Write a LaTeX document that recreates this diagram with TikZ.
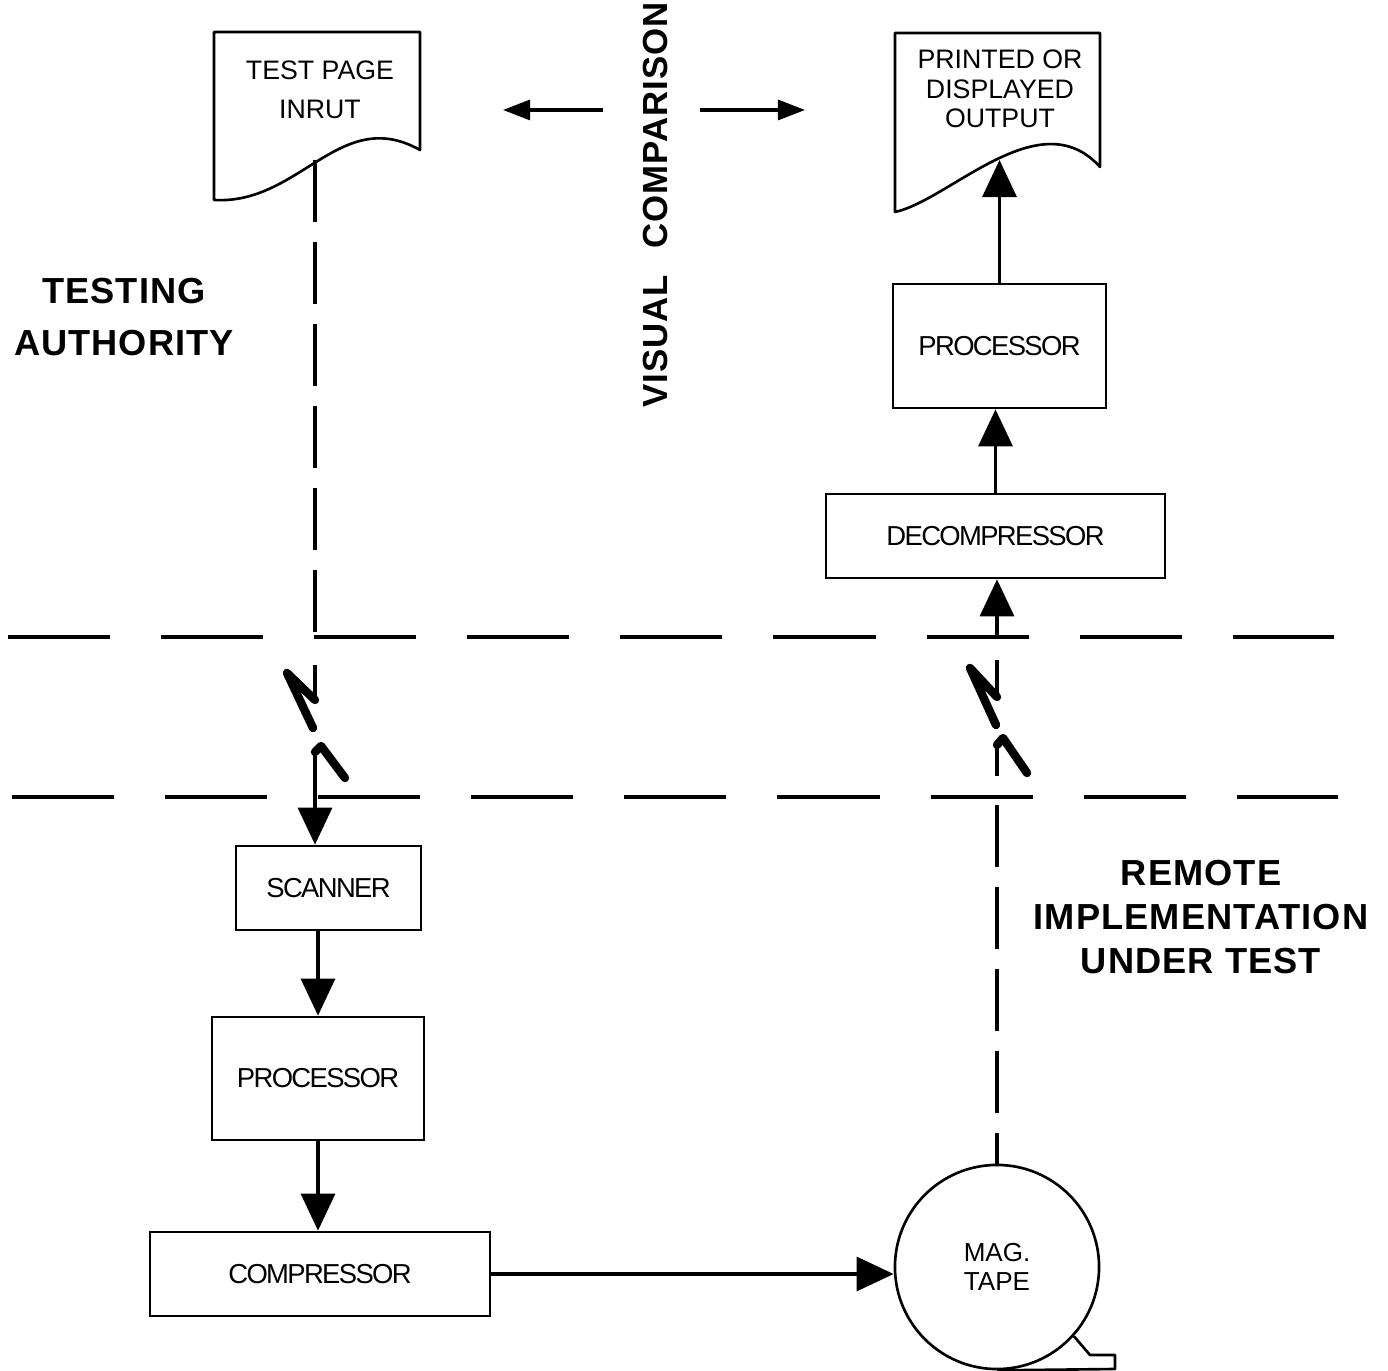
\documentclass[tikz,border=0pt]{standalone}
\usepackage{fontspec}
\setmainfont{Liberation Sans}
\newfontfamily\boxfont[LetterSpace=-6]{Liberation Sans}
\newfontfamily\docfont{Liberation Sans}
\newfontfamily\zonefont[LetterSpace=3]{Liberation Sans}
\usetikzlibrary{arrows.meta}

\begin{document}
\begin{tikzpicture}[x=0.01cm, y=-0.01cm,
  box/.style={draw, line width=0.75pt, inner sep=0pt,
    font=\boxfont\fontsize{7.8}{9}\selectfont},
  tapebox/.style={draw, circle, line width=0.75pt, inner sep=0pt, align=center,
    font=\docfont\fontsize{7.4}{8.2}\selectfont},
  doc/.style={line width=0.75pt, line join=round},
  conn/.style={line width=0.9pt, -{Triangle[length=0.37cm,width=0.34cm]}},
  cmp/.style={line width=0.9pt, -{Triangle[length=0.27cm,width=0.2cm]}},
  trace/.style={line width=1pt, dash pattern=on 0.62cm off 0.2cm},
  sepline/.style={line width=1.1pt, dash pattern=on 1.02cm off 0.51cm},
  bolt/.style={line width=2.4pt, line cap=round, line join=round},
  boltstem/.style={line width=1.1pt},
  zonetext/.style={inner sep=0pt, align=center, font=\zonefont\bfseries}
]
\fill[white] (0,0) rectangle (1388,1371);
\useasboundingbox (0,0) rectangle (1388,1371);

% documents
\draw[doc] (214,32) -- (420,32) -- (420,150)
  .. controls (340,105) and (300,205) .. (214,200) -- cycle;
\coordinate (inwave) at (315,160);
\node[inner sep=0pt, align=center, font=\docfont\fontsize{7.6}{11}\selectfont]
  (intext) at (320,90) {TEST PAGE\\INRUT};

\draw[doc] (895,33) -- (1100,33) -- (1100,167)
  .. controls (1040,100) and (950,200) .. (895,212) -- cycle;
\node[inner sep=0pt, align=center, font=\docfont\fontsize{7.6}{8.3}\selectfont]
  (outtext) at (1000,89) {PRINTED OR\\DISPLAYED\\OUTPUT};

% process boxes
\node[box, minimum width=1.85cm, minimum height=0.84cm] (scanner) at (328.5,888) {SCANNER};
\node[box, minimum width=2.12cm, minimum height=1.23cm] (procA) at (318,1078.5) {PROCESSOR};
\node[box, minimum width=3.40cm, minimum height=0.84cm] (compressor) at (320,1274) {COMPRESSOR};
\node[box, minimum width=2.13cm, minimum height=1.24cm] (procB) at (999.5,346) {PROCESSOR};
\node[box, minimum width=3.39cm, minimum height=0.84cm] (decomp) at (995.5,536) {DECOMPRESSOR};
\node[tapebox, minimum size=2.04cm] (tape) at (997,1267) {MAG.\\TAPE};
\draw[doc] (tape.-42) -- (1090,1355) -- (1115,1355) -- (1115,1369) -- (tape.south);

% region boundaries
\draw[sepline] (8,637) -- (1334,637);
\draw[sepline] (12,797) -- (1338,797);

% left path: test page down to the scanner
\coordinate (traceAend) at (315,637);
\draw[trace] (inwave) -- (traceAend);
\draw[boltstem] (315,665) -- (315,700);
\draw[bolt] (315,700) -- (287,673) -- (313,728);
\draw[bolt] (345,778) -- (321,746) -- (315,752);
\coordinate (boltAfoot) at (315,752);
\draw[conn] (boltAfoot) -- (boltAfoot |- scanner.north);
\draw[conn] (procA.north |- scanner.south) -- (procA.north);
\draw[conn] (procA.south) -- (procA.south |- compressor.north);
\draw[conn] (compressor.east) -- (compressor.east -| tape.west);

% right path: tape up to the output
\coordinate (traceBtop) at (997,805);
\draw[trace] (traceBtop) -- (tape.north);
\draw[boltstem] (997,745) -- (997,776);
\draw[bolt] (997,745) -- (1003,738) -- (1027,773);
\draw[boltstem] (997,660) -- (997,697);
\draw[bolt] (997,697) -- (970,668) -- (996,725);
\coordinate (boltBhead) at (997,637);
\draw[conn] (boltBhead) -- (boltBhead |- decomp.south);
\draw[conn] (decomp.north) -- (decomp.north |- procB.south);
\coordinate (outwave) at (999.5,160);
\draw[conn] (procB.north) -- (outwave);

% visual comparison
\coordinate (vcL) at (603,110);
\coordinate (vcLtip) at (503,110);
\coordinate (vcR) at (700,110);
\coordinate (vcRtip) at (805,110);
\draw[cmp] (vcL) -- (vcLtip);
\draw[cmp] (vcR) -- (vcRtip);
\node[zonetext, rotate=90, font=\zonefont\bfseries\fontsize{9.9}{12}\selectfont]
  (visual) at (656,205) {VISUAL\hspace{0.75em}COMPARISON};

% zone labels
\node[zonetext, font=\zonefont\bfseries\fontsize{10.3}{14.7}\selectfont]
  (testing) at (124,317) {TESTING\\AUTHORITY};
\node[zonetext, font=\zonefont\bfseries\fontsize{10.3}{12.5}\selectfont]
  (remote) at (1201,917) {REMOTE\\IMPLEMENTATION\\UNDER TEST};
\end{tikzpicture}
\end{document}
